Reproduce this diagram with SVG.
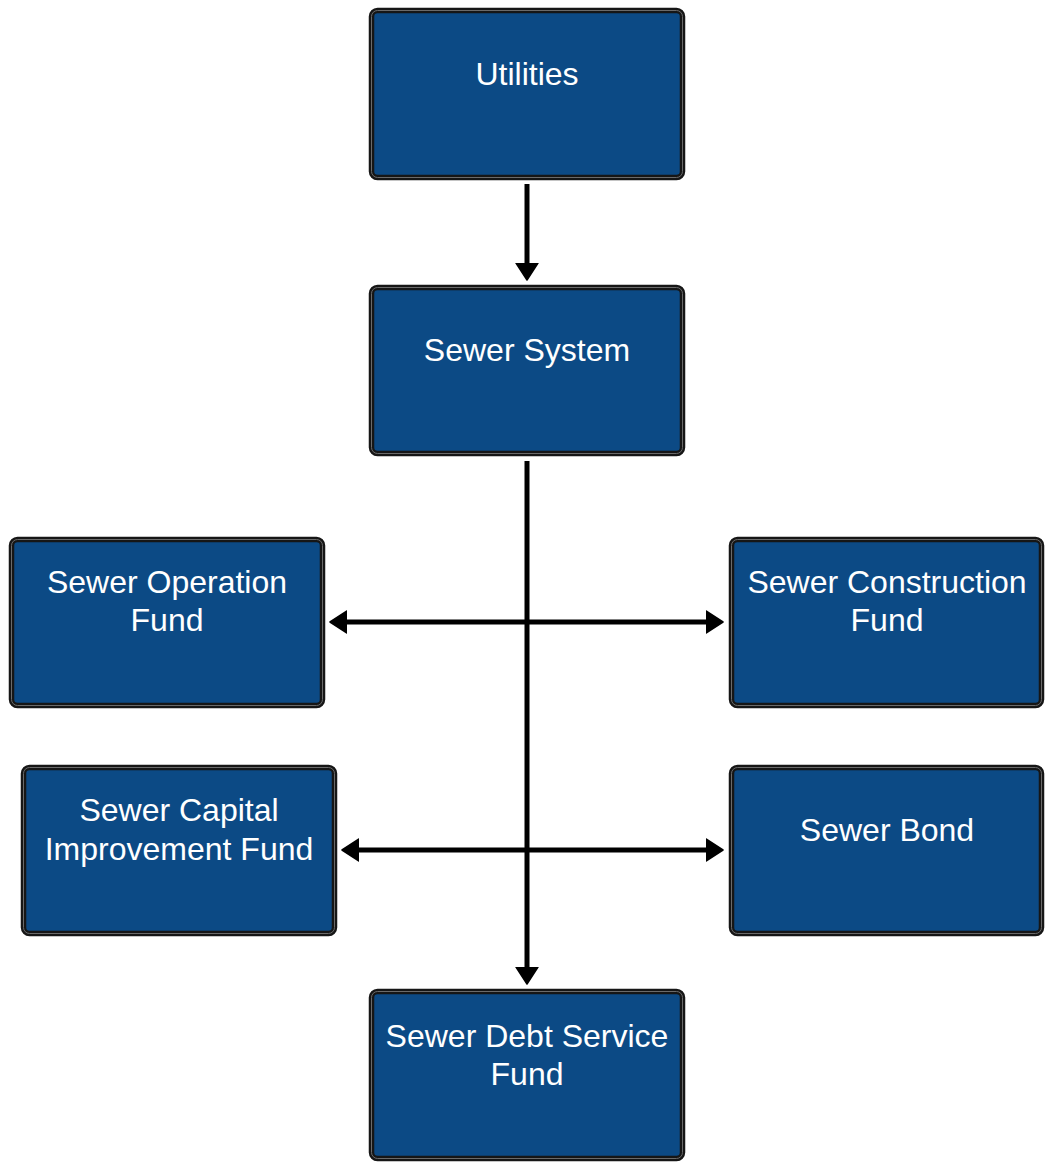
<svg xmlns="http://www.w3.org/2000/svg" width="1045" height="1162" viewBox="0 0 1045 1162">
<style>
.box{fill:#0c4a85;stroke:#161616;stroke-width:5.5}
.inner{fill:none;stroke:#6a6a6a;stroke-width:1}
.lbl{font-family:"Liberation Sans",Arial,sans-serif;font-size:32px;fill:#ffffff;text-anchor:middle}
.conn{fill:none;stroke:#000;stroke-width:5}
</style>
<defs>
<marker id="ah" viewBox="0 0 18 24" markerWidth="18" markerHeight="24" refX="0" refY="12" orient="auto-start-reverse" markerUnits="userSpaceOnUse">
<path d="M0,1 L17,12 L0,23 Z" fill="#000" stroke="#000" stroke-width="1.5" stroke-linejoin="round"/>
</marker>
</defs>
<rect width="1045" height="1162" fill="#ffffff"/>
<g id="connectors">
<path class="conn" d="M527,184 L527,263" marker-end="url(#ah)"/>
<path class="conn" d="M527,461 L527,967" marker-end="url(#ah)"/>
<path class="conn" d="M347,622 L706,622" marker-start="url(#ah)" marker-end="url(#ah)"/>
<path class="conn" d="M359,850 L706,850" marker-start="url(#ah)" marker-end="url(#ah)"/>
</g>
<g id="utilities">
<rect class="box" x="371.5" y="10.5" width="311" height="167" rx="6"/>
<rect class="inner" x="371.5" y="10.5" width="311" height="167" rx="6"/>
<text class="lbl" x="527" y="85">Utilities</text>
</g>
<g id="sewer-system">
<rect class="box" x="371.5" y="287.5" width="311" height="166" rx="6"/>
<rect class="inner" x="371.5" y="287.5" width="311" height="166" rx="6"/>
<text class="lbl" x="527" y="361">Sewer System</text>
</g>
<g id="sewer-operation-fund">
<rect class="box" x="11.5" y="539.5" width="311" height="166" rx="6"/>
<rect class="inner" x="11.5" y="539.5" width="311" height="166" rx="6"/>
<text class="lbl" x="167" y="593">Sewer Operation</text>
<text class="lbl" x="167" y="631">Fund</text>
</g>
<g id="sewer-construction-fund">
<rect class="box" x="731.5" y="539.5" width="310" height="166" rx="6"/>
<rect class="inner" x="731.5" y="539.5" width="310" height="166" rx="6"/>
<text class="lbl" x="887" y="593">Sewer Construction</text>
<text class="lbl" x="887" y="631">Fund</text>
</g>
<g id="sewer-capital-improvement-fund">
<rect class="box" x="23.5" y="767.5" width="311" height="166" rx="6"/>
<rect class="inner" x="23.5" y="767.5" width="311" height="166" rx="6"/>
<text class="lbl" x="179" y="821">Sewer Capital</text>
<text class="lbl" x="179" y="860">Improvement Fund</text>
</g>
<g id="sewer-bond">
<rect class="box" x="731.5" y="767.5" width="310" height="166" rx="6"/>
<rect class="inner" x="731.5" y="767.5" width="310" height="166" rx="6"/>
<text class="lbl" x="887" y="841">Sewer Bond</text>
</g>
<g id="sewer-debt-service-fund">
<rect class="box" x="371.5" y="991.5" width="311" height="167" rx="6"/>
<rect class="inner" x="371.5" y="991.5" width="311" height="167" rx="6"/>
<text class="lbl" x="527" y="1047">Sewer Debt Service</text>
<text class="lbl" x="527" y="1085">Fund</text>
</g>
</svg>
